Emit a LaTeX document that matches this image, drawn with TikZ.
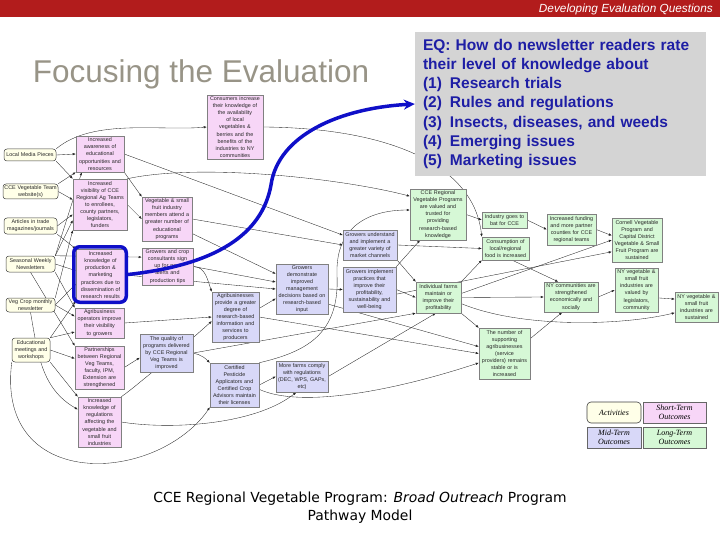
\documentclass[tikz,border=0pt]{standalone}
\usepackage{fontspec}
\setmainfont{Liberation Sans}
\newfontfamily\capfam{DejaVu Sans}
\newfontfamily\legfam{Liberation Serif}
\usetikzlibrary{arrows.meta,backgrounds}

\definecolor{hdrred}{RGB}{178,28,28}
\definecolor{titlegray}{RGB}{152,148,135}
\definecolor{eqgray}{RGB}{212,212,212}
\definecolor{eqblue}{RGB}{30,30,165}
\definecolor{actfill}{RGB}{255,255,232}
\definecolor{stfill}{RGB}{247,214,247}
\definecolor{mtfill}{RGB}{216,216,248}
\definecolor{ltfill}{RGB}{214,248,214}
\definecolor{hiblue}{RGB}{15,15,200}

\begin{document}
\begin{tikzpicture}[x=1pt,y=1pt,
  pbox/.style={draw=black!50,line width=0.5pt,align=center,inner sep=1pt,
    font=\fontsize{5.4}{7.1}\selectfont,text=black!85},
  act/.style={pbox,fill=actfill,draw=black!75,rounded corners=3pt},
  stbox/.style={pbox,fill=stfill},
  mtbox/.style={pbox,fill=mtfill},
  ltbox/.style={pbox,fill=ltfill},
  link/.style={-{Latex[length=3pt,width=2.4pt]},line width=0.35pt,black!85},
  hilite/.style={draw=hiblue,line width=3.5pt,rounded corners=6pt},
  bluearrow/.style={draw=hiblue,line width=3.5pt,-{Stealth[length=11pt,width=10pt]}},
  legbox/.style={draw=black!60,line width=0.6pt,align=center,inner sep=1pt,
    font=\legfam\itshape\fontsize{8}{9.2}\selectfont,minimum width=54pt,minimum height=21pt}]
  \useasboundingbox (0,0) rectangle (720,-540);

  % header and title
  \node[fill=hdrred,minimum width=720pt,minimum height=17pt,inner sep=0pt,anchor=north west] (hdr) at (0,0) {};
  \node[anchor=east,text=white,font=\fontsize{11.8}{13}\selectfont\itshape,inner sep=0pt] (hdrtxt) at (713,-9) {Developing Evaluation Questions};
  \node[anchor=base,text=titlegray,font=\fontsize{31.5}{34}\selectfont,inner sep=0pt] (ttl) at (201,-83) {Focusing the Evaluation};
  \node[fill=eqgray,minimum width=291pt,minimum height=144pt,text width=275pt,inner xsep=8pt,align=left,
    text=eqblue,font=\fontsize{15.5}{19.3}\selectfont\bfseries] (eq) at (560.5,-104)
    {EQ: How do newsletter readers rate\\their level of knowledge about\\
     \makebox[27pt][l]{(1)}Research trials\\\makebox[27pt][l]{(2)}Rules and regulations\\
     \makebox[27pt][l]{(3)}Insects, diseases, and weeds\\\makebox[27pt][l]{(4)}Emerging issues\\
     \makebox[27pt][l]{(5)}Marketing issues};

  % activities
  \node[act,text width=50pt,minimum height=12pt] (a1) at (30,-155) {Local Media Pieces};
  \node[act,text width=53pt,minimum height=15pt] (a2) at (30.5,-191.5) {CCE Vegetable Team\\website(s)};
  \node[act,text width=51pt,minimum height=16pt] (a3) at (30.5,-226) {Articles in trade\\magazines/journals};
  \node[act,text width=47pt,minimum height=16pt] (a4) at (30.5,-264) {Seasonal Weekly\\Newsletters};
  \node[act,text width=47pt,minimum height=14pt] (a5) at (30.5,-305) {Veg Crop monthly\\newsletter};
  \node[act,text width=36pt,minimum height=24pt] (a6) at (31,-350) {Educational\\meetings and\\workshops};

  % short-term outcomes
  \node[stbox,text width=46pt,minimum height=36pt] (s1) at (100,-154) {Increased\\awareness of\\educational\\opportunities and\\resources};
  \node[stbox,text width=52pt,minimum height=51pt] (s2) at (100,-204.5) {Increased\\visibility of CCE\\Regional Ag Teams\\to enrollees,\\county partners,\\legislators,\\funders};
  \node[stbox,text width=47pt,minimum height=52pt] (s3) at (100.5,-275) {Increased\\knowledge of\\production \&\\marketing\\practices due to\\dissemination of\\research results};
  \node[stbox,text width=47pt,minimum height=30pt] (s4) at (99.5,-323) {Agribusiness\\operators improve\\their visibility\\to growers};
  \node[stbox,text width=47pt,minimum height=43pt] (s5) at (99.5,-367.5) {Partnerships\\between Regional\\Veg Teams,\\faculty, IPM,\\Extension are\\strengthened};
  \node[stbox,text width=41pt,minimum height=50pt] (s6) at (99.5,-422) {Increased\\knowledge of\\regulations\\affecting the\\vegetable and\\small fruit\\industries};
  \node[stbox,text width=54pt,minimum height=64pt] (s7) at (235,-127) {Consumers increase\\their knowledge of\\the availability\\of local\\vegetables \&\\berries and the\\benefits of the\\industries to NY\\communities};
  \node[stbox,text width=48pt,minimum height=44pt] (s8) at (167,-219) {Vegetable \& small\\fruit industry\\members attend a\\greater number of\\educational\\programs};
  \node[stbox,text width=49pt,minimum height=37pt] (s9) at (167.5,-266.5) {Growers and crop\\consultants sign\\up for pest\\alerts and\\production tips};

  % mid-term outcomes
  \node[mtbox,text width=51pt,minimum height=38pt] (m1) at (166.5,-353) {The quality of\\programs delivered\\by CCE Regional\\Veg Teams is\\improved};
  \node[mtbox,text width=45pt,minimum height=50pt] (m2) at (235.5,-317) {Agribusinesses\\provide a greater\\degree of\\research-based\\information and\\services to\\producers};
  \node[mtbox,text width=50pt,minimum height=50pt] (m3) at (302,-289) {Growers\\demonstrate\\improved\\management\\decisions based on\\research-based\\input};
  \node[mtbox,text width=47pt,minimum height=44pt] (m4) at (234.5,-385) {Certified\\Pesticide\\Applicators and\\Certified Crop\\Advisors maintain\\their licenses};
  \node[mtbox,text width=50pt,minimum height=31pt] (m5) at (302,-376.5) {More farms comply\\with regulations\\(DEC, WPS, GAPs,\\etc)};
  \node[mtbox,text width=52pt,minimum height=30pt] (m6) at (370,-245) {Growers understand\\and implement a\\greater variety of\\market channels};
  \node[mtbox,text width=51pt,minimum height=45pt] (m7) at (369.5,-289.5) {Growers implement\\practices that\\improve their\\profitability,\\sustainability and\\well-being};

  % long-term outcomes
  \node[ltbox,text width=54pt,minimum height=51pt] (l1) at (438,-214.5) {CCE Regional\\Vegetable Programs\\are valued and\\trusted for\\providing\\research-based\\knowledge};
  \node[ltbox,text width=43pt,minimum height=31pt] (l2) at (438.5,-297.5) {Individual farms\\maintain or\\improve their\\profitability};
  \node[ltbox,text width=43pt,minimum height=16pt] (l3) at (504.5,-220) {Industry goes to\\bat for CCE};
  \node[ltbox,text width=45pt,minimum height=23pt] (l4) at (505.5,-248.5) {Consumption of\\local/regional\\food is increased};
  \node[ltbox,text width=47pt,minimum height=31pt] (l5) at (571.5,-229.5) {Increased funding\\and more partner\\counties for CCE\\regional teams};
  \node[ltbox,text width=48pt,minimum height=44pt] (l6) at (637,-240) {Cornell Vegetable\\Program and\\Capital District\\Vegetable \& Small\\Fruit Program are\\sustained};
  \node[ltbox,text width=52pt,minimum height=30pt] (l7) at (571,-297) {NY communities are\\strengthened\\economically and\\socially};
  \node[ltbox,text width=41pt,minimum height=44pt] (l8) at (636.5,-290) {NY vegetable \&\\small fruit\\industries are\\valued by\\legislators,\\community};
  \node[ltbox,text width=41pt,minimum height=30pt] (l9) at (696.5,-307) {NY vegetable \&\\small fruit\\industries are\\sustained};
  \node[ltbox,text width=49pt,minimum height=51pt] (l10) at (504.5,-353.5) {The number of\\supporting\\agribusinesses\\(service\\providers) remains\\stable or is\\increased};

  % legend and caption
  \node[legbox,fill=actfill,draw=black!75,rounded corners=4pt] (lgact) at (614,-412.5) {Activities};
  \node[legbox,fill=stfill,minimum width=63pt] (lgst) at (674.5,-412.5) {Short-Term\\Outcomes};
  \node[legbox,fill=mtfill] (lgmt) at (614,-437.5) {Mid-Term\\Outcomes};
  \node[legbox,fill=ltfill,minimum width=63pt] (lglt) at (674.5,-437.5) {Long-Term\\Outcomes};
  \node[align=center,font=\capfam\fontsize{13.9}{18}\selectfont] (cap) at (360,-508)
    {CCE Regional Vegetable Program: \textit{Broad Outreach} Program\\Pathway Model};

  % connectors
  \begin{pgfonlayer}{background}
    \foreach \from/\to in {a1.east/s1.west, a1.south east/s2.north west, a2.east/s2.170,
        a2.north east/s1.south west, a3.east/s2.200, a3.south east/s3.north west,
        a4.north east/s1.-135, a4.north east/s2.-150, a4.east/s3.170, a4.south east/s4.north west,
        a4.south/s5.north west, a4.north east/s9.160, a5.north east/s2.south west, a5.east/s3.200,
        a5.east/s4.165, a6.north east/s3.south west, a6.north east/s4.-160, a6.east/s5.160,
        a6.south east/s6.north west}
      \draw[link] (\from) -- (\to);
    \foreach \from/\to in {s1.south east/s8.north west, s1.east/m6.160, s2.east/s8.west,
        s3.east/m3.west, s4.east/m2.west, s5.east/m1.190, s8.east/m6.west, s8.-30/m3.150,
        s9.east/m3.165}
      \draw[link] (\from) -- (\to);
    \foreach \from/\to in {m1.30/m2.190, m1.east/l2.south west, m2.20/m3.200, m2.east/l10.west,
        m3.east/m7.west, m3.-30/l10.165, m4.east/m5.west, m5.east/l2.-100, m6.east/l4.west,
        m6.south east/l2.north west, m7.north east/l1.-125, m7.east/l2.west, m7.-10/l6.205}
      \draw[link] (\from) -- (\to);
    \foreach \from/\to in {l1.east/l3.west, l2.north east/l4.south west, l2.10/l6.west,
        l2.east/l7.west, l2.south east/l10.north west, l3.east/l5.west, l4.-60/l7.130,
        l5.east/l6.170, l7.east/l8.west, l8.-20/l9.160, l10.30/l7.-120}
      \draw[link] (\from) -- (\to);
    % curved ones
    \draw[link] (a1.north east) to[out=40,in=185,looseness=0.8] (s7.west);
    \draw[link] (a5.south) to[out=-80,in=150] (s6.150);
    \draw[link] (a6.south west) .. controls (2,-440) and (55,-468) .. (110,-463)
      .. controls (160,-458) and (195,-430) .. (m4.south west);
    \draw[link] (s2.north east) .. controls (200,-163) and (340,-178) .. (l1.147);
    \draw[link] (s6.east) .. controls (170,-430) and (255,-425) .. (m5.250);
    \draw[link] (s6.north east) to[out=35,in=135] (m4.north west);
    \draw[link] (s7.east) .. controls (390,-128) and (474,-165) .. (l4.north west);
    \draw[link] (s9.east) to[out=0,in=110] (m2.north west);
    \draw[link] (m4.north east) .. controls (305,-352) and (340,-335) .. (337,-275)
      .. controls (335,-222) and (375,-210) .. (l1.171);
    \draw[link] (m4.-10) .. controls (300,-408) and (390,-392) .. (l10.200);
    \draw[link] (l2.-15) .. controls (520,-328) and (620,-326) .. (l9.195);
  \end{pgfonlayer}

  % highlighted outcome and its question
  \node[hilite,minimum width=52.5pt,minimum height=55.5pt] (hl) at (100,-274.5) {};
  \draw[bluearrow] (hl.east) .. controls (215,-265) and (262,-235) .. (271,-185)
    .. controls (278,-135) and (340,-108) .. (eq.west);
\end{tikzpicture}
\end{document}
